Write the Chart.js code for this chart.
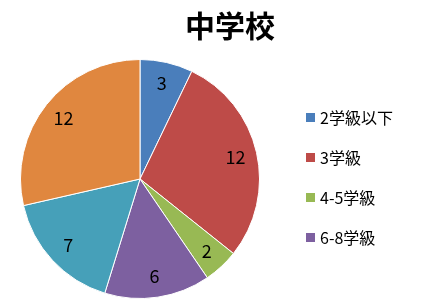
<!DOCTYPE html>
<html>
<head>
<meta charset="utf-8">
<script src="https://cdn.jsdelivr.net/npm/chart.js@4"></script>
<style>
  html, body { margin: 0; padding: 0; background: #fff; }
  #wrap { position: relative; width: 427px; height: 303px; }
</style>
</head>
<body>
<div id="wrap"><canvas id="pieChart" width="427" height="303"></canvas></div>
<script>
const chartTitle = '中学校';
const categories = ['2学級以下', '3学級', '4-5学級', '6-8学級', '9-11学級', '12学級以上'];
const counts = [3, 12, 2, 6, 7, 12];
const sliceColors = ['#4A7EBB', '#BE4B48', '#98B954', '#7D60A0', '#46A0B9', '#E0873F'];
const legendCount = 4; // only the first four show in the legend

const font = "'Noto Sans CJK JP', 'Noto Sans', sans-serif";

// title, legend and in-slice value labels, drawn by hand to match the layout
const decorations = {
  id: 'decorations',
  afterDatasetsDraw(chart) {
    const ctx = chart.ctx;
    ctx.save();
    ctx.fillStyle = '#000';
    ctx.textBaseline = 'middle';

    ctx.font = `bold 30px ${font}`;
    ctx.textAlign = 'center';
    ctx.fillText(chartTitle, 230, 26);

    const meta = chart.getDatasetMeta(0);
    ctx.font = `18px ${font}`;
    meta.data.forEach((arc, i) => {
      const mid = (arc.startAngle + arc.endAngle) / 2;
      const r = arc.outerRadius * 0.82;
      ctx.fillText(String(counts[i]), arc.x + Math.cos(mid) * r, arc.y + Math.sin(mid) * r);
    });

    ctx.font = `16px ${font}`;
    ctx.textAlign = 'left';
    for (let i = 0; i < legendCount; i++) {
      const y = 117 + i * 40;
      ctx.fillStyle = sliceColors[i];
      ctx.fillRect(306, y - 4, 9, 9);
      ctx.fillStyle = '#000';
      ctx.fillText(categories[i], 320, y + 1);
    }
    ctx.restore();
  }
};

new Chart(document.getElementById('pieChart'), {
  type: 'pie',
  data: {
    labels: categories,
    datasets: [{
      data: counts,
      backgroundColor: sliceColors,
      borderColor: '#ffffff',
      borderWidth: 1
    }]
  },
  options: {
    responsive: false,
    animation: false,
    layout: { padding: { left: 20, right: 167, top: 59, bottom: 4 } },
    plugins: {
      legend: { display: false },
      title: { display: false },
      tooltip: { enabled: false }
    }
  },
  plugins: [decorations]
});
</script>
</body>
</html>
